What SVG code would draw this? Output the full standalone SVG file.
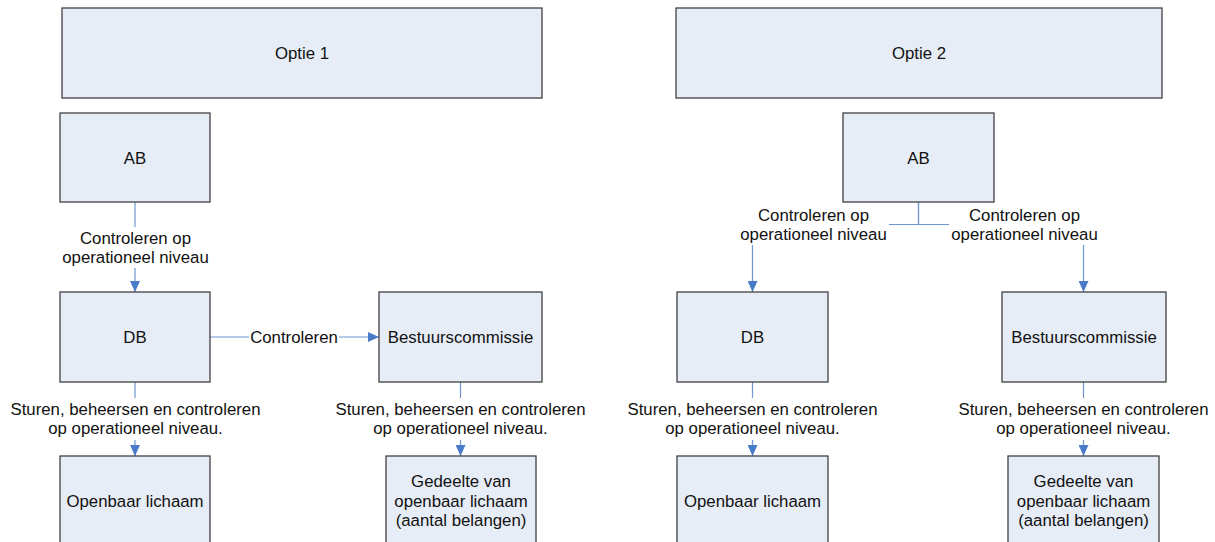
<svg xmlns="http://www.w3.org/2000/svg" width="1215" height="542" viewBox="0 0 1215 542">
<defs>
<style>
.box{fill:#e7edf7;stroke:#404040;stroke-width:1.3}
.t{font-family:"Liberation Sans",Arial,sans-serif;font-size:16.8px;fill:#111;text-anchor:middle}
.ln{fill:none;stroke:#6f96d3;stroke-width:1.2}
.bg{fill:#ffffff}
</style>
<marker id="arr" viewBox="0 0 11 10" refX="11" refY="5" markerWidth="11" markerHeight="10" markerUnits="userSpaceOnUse" orient="auto">
<path d="M0,0 L11,5 L0,10 z" fill="#4a7bc8"/>
</marker>
</defs>
<rect width="1215" height="542" fill="#ffffff"/>

<g id="connectors">
<path class="ln" d="M135,202 V292" marker-end="url(#arr)"/>
<path class="ln" d="M210,337 H379" marker-end="url(#arr)"/>
<path class="ln" d="M135,382 V456" marker-end="url(#arr)"/>
<path class="ln" d="M460.5,382 V456" marker-end="url(#arr)"/>
<path class="ln" d="M918.5,202 V224.5 H752.5 V292" marker-end="url(#arr)"/>
<path class="ln" d="M918.5,202 V224.5 H1083.5 V292" marker-end="url(#arr)"/>
<path class="ln" d="M752.5,382 V456" marker-end="url(#arr)"/>
<path class="ln" d="M1083.5,382 V456" marker-end="url(#arr)"/>

<g id="label-ab1-db1">
<rect class="bg" x="60" y="227" width="151" height="41"/>
<text class="t" x="135.5" y="243.5">Controleren op</text>
<text class="t" x="135.5" y="263">operationeel niveau</text>
</g>
<g id="label-db1-bc1">
<rect class="bg" x="249" y="327" width="90" height="21"/>
<text class="t" x="294" y="343">Controleren</text>
</g>
<g id="label-db1-ol1">
<rect class="bg" x="8" y="398" width="255" height="42"/>
<text class="t" x="135.5" y="414.5">Sturen, beheersen en controleren</text>
<text class="t" x="135.5" y="434">op operationeel niveau.</text>
</g>
<g id="label-bc1-gd1">
<rect class="bg" x="333" y="398" width="255" height="42"/>
<text class="t" x="460.5" y="414.5">Sturen, beheersen en controleren</text>
<text class="t" x="460.5" y="434">op operationeel niveau.</text>
</g>
<g id="label-ab2-db2">
<rect class="bg" x="738" y="206" width="151" height="39"/>
<text class="t" x="813.5" y="221">Controleren op</text>
<text class="t" x="813.5" y="240">operationeel niveau</text>
</g>
<g id="label-ab2-bc2">
<rect class="bg" x="949" y="206" width="151" height="39"/>
<text class="t" x="1024.5" y="221">Controleren op</text>
<text class="t" x="1024.5" y="240">operationeel niveau</text>
</g>
<g id="label-db2-ol2">
<rect class="bg" x="625" y="398" width="255" height="42"/>
<text class="t" x="752.5" y="414.5">Sturen, beheersen en controleren</text>
<text class="t" x="752.5" y="434">op operationeel niveau.</text>
</g>
<g id="label-bc2-gd2">
<rect class="bg" x="956" y="398" width="255" height="42"/>
<text class="t" x="1083.5" y="414.5">Sturen, beheersen en controleren</text>
<text class="t" x="1083.5" y="434">op operationeel niveau.</text>
</g>
</g>

<g id="optie1"><rect class="box" x="62" y="8" width="480" height="90"/><text class="t" x="302" y="59">Optie 1</text></g>
<g id="optie2"><rect class="box" x="676" y="8" width="486" height="90"/><text class="t" x="919" y="59">Optie 2</text></g>

<g id="ab1"><rect class="box" x="60" y="113" width="150" height="89"/><text class="t" x="135" y="163.5">AB</text></g>
<g id="db1"><rect class="box" x="60" y="292" width="150" height="90"/><text class="t" x="135" y="343">DB</text></g>
<g id="bestuurscommissie1"><rect class="box" x="379" y="292" width="163" height="90"/><text class="t" x="460.5" y="343">Bestuurscommissie</text></g>
<g id="openbaar1"><rect class="box" x="60" y="456" width="150" height="90"/><text class="t" x="135" y="506.5">Openbaar lichaam</text></g>
<g id="gedeelte1"><rect class="box" x="386" y="456" width="150" height="90"/>
<text class="t" x="461" y="487">Gedeelte van</text>
<text class="t" x="461" y="506.5">openbaar lichaam</text>
<text class="t" x="461" y="526">(aantal belangen)</text></g>

<g id="ab2"><rect class="box" x="843" y="113" width="151" height="89"/><text class="t" x="918.5" y="163.5">AB</text></g>
<g id="db2"><rect class="box" x="677" y="292" width="151" height="90"/><text class="t" x="752.5" y="343">DB</text></g>
<g id="bestuurscommissie2"><rect class="box" x="1002" y="292" width="164" height="90"/><text class="t" x="1084" y="343">Bestuurscommissie</text></g>
<g id="openbaar2"><rect class="box" x="677" y="456" width="151" height="90"/><text class="t" x="752.5" y="506.5">Openbaar lichaam</text></g>
<g id="gedeelte2"><rect class="box" x="1008" y="456" width="151" height="90"/>
<text class="t" x="1083.5" y="487">Gedeelte van</text>
<text class="t" x="1083.5" y="506.5">openbaar lichaam</text>
<text class="t" x="1083.5" y="526">(aantal belangen)</text></g>
</svg>
